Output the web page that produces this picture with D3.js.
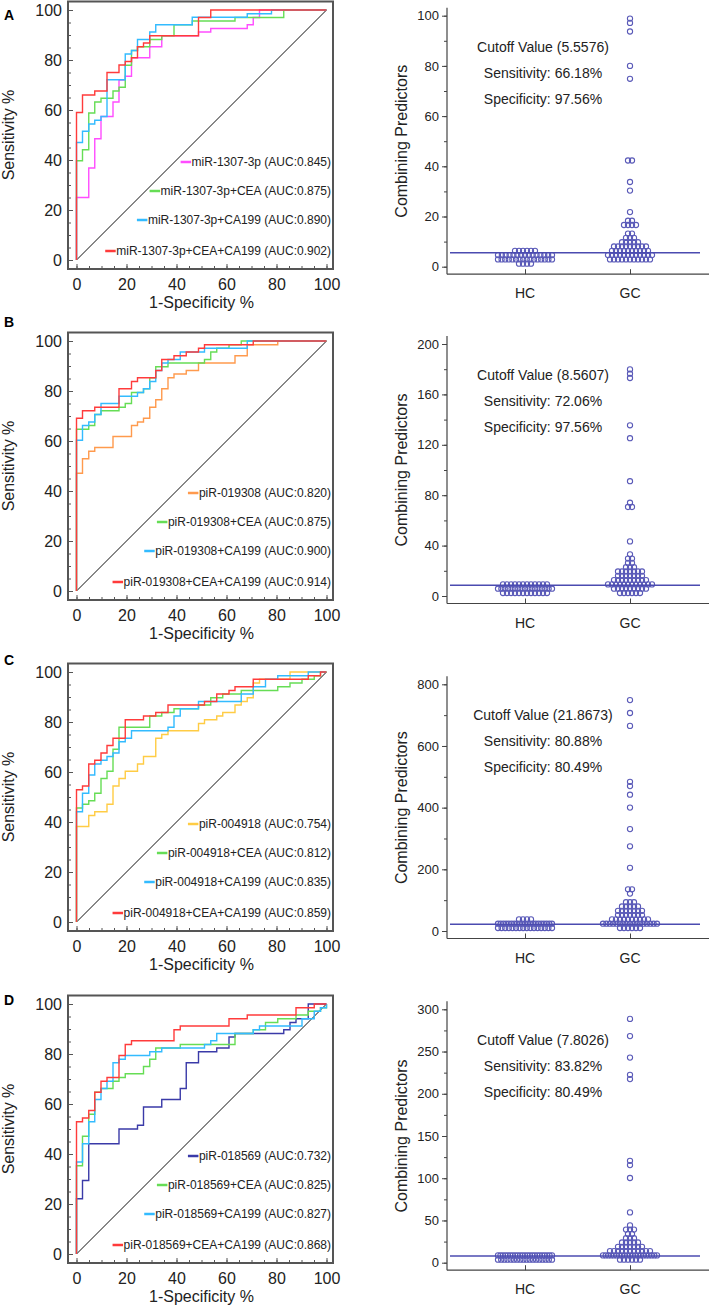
<!DOCTYPE html>
<html><head><meta charset="utf-8">
<script src="https://cdn.jsdelivr.net/npm/d3@7"></script>
<style>body{margin:0;background:#fff}svg{display:block;font-family:"Liberation Sans",Arial,sans-serif}</style>
</head><body><svg id="c" width="709" height="1309"></svg>
<script>
// ---------- ROC data: [1-specificity %, sensitivity %] step points ----------
const A_single = [[0,0],[0,25],[4.9,36.8],[7.3,48.5],[9.8,57.4],[14.6,63.2],[17,72],[19.5,73.5],[22,80.9],[29.3,85.3],[34.1,86.8],[34.1,89.7],[48.8,91.2],[53.7,92.6],[68.3,94.1],[70.7,97],[73.2,100],[100,100]];
const A_cea    = [[0,0],[0,39.7],[2.4,44.1],[4.9,58.8],[7.3,63.2],[9.8,64.7],[14.6,67.6],[17,69.1],[19.5,77.9],[22,83.8],[24.4,85.3],[29.3,88.2],[34.1,89.7],[39,94.1],[46.3,95.6],[63.4,97],[82.9,100],[100,100]];
const A_ca199  = [[0,0],[0,47],[2.4,51.5],[4.9,54.4],[7.3,55.9],[9.8,57.4],[12.2,72.1],[19.5,82.4],[22,83.8],[24.4,88.2],[29.3,91.2],[31.7,94.1],[46.3,97.1],[68.3,98.5],[78,100],[100,100]];
const A_both   = [[0,0],[0,59],[2.4,66],[7.3,67.6],[12.2,75],[17,78],[19.5,79.4],[22,80.9],[24.4,85.3],[26.8,86.8],[29.3,89.7],[48.8,97],[53.7,100],[100,100]];

const B_single = [[0,0],[0,47.1],[2.4,52.9],[4.9,55.9],[7.3,57.4],[14.6,61.8],[22,66.2],[24.4,67.6],[26.8,69.1],[29.3,73.5],[31.7,76.5],[34.1,80.9],[36.6,85.3],[39,86.8],[43.9,88.2],[48.8,91.2],[63.4,94.1],[68.3,98.5],[80.5,100],[100,100]];
const B_cea    = [[0,0],[0,64.7],[4.9,66.2],[7.3,70.6],[9.8,72.1],[17,73.5],[19.5,75],[22,79.4],[26.8,80.9],[29.3,85.3],[31.7,89.7],[36.6,91.2],[51.2,92.6],[53.7,95.6],[56.1,97.1],[61,98.5],[65.9,100],[100,100]];
const B_ca199  = [[0,0],[0,60.3],[2.4,66.2],[4.9,67.6],[7.3,70.6],[9.8,75],[17,77.9],[24.4,79.4],[26.8,80.9],[29.3,83.8],[31.7,88.2],[34.1,91.2],[36.6,92.6],[41.5,95.6],[51.2,97.1],[68.3,100],[100,100]];
const B_both   = [[0,0],[0,69.1],[2.4,72.1],[7.3,73.5],[17,80.9],[22,83.8],[24.4,85.3],[31.7,88.2],[34.1,92.6],[39,94.1],[43.9,95.6],[48.8,97.1],[51.2,98.5],[70.7,100],[100,100]];

const C_single = [[0,0],[0,38.2],[4.9,42.6],[7.3,44.1],[12.2,47.1],[14.6,54.4],[17,57.4],[19.5,60.3],[24.4,63.2],[26.8,66.2],[31.7,73.5],[34.1,75],[36.6,76.5],[48.8,79.4],[51.2,80.9],[56.1,82.4],[58.5,83.8],[63.4,86.8],[65.9,88.2],[68.3,89.7],[70.7,95.6],[73.2,97.1],[85.4,100],[100,100]];
const C_cea    = [[0,0],[0,45.6],[2.4,47.1],[4.9,48.5],[7.3,51.5],[9.8,57.4],[12.2,60.3],[14.6,69.1],[17,77.9],[29.3,82.4],[34.1,83.8],[39,85.3],[48.8,86.8],[53.7,89.7],[58.5,91.2],[65.9,92.6],[80.5,94.1],[85.4,95.6],[90.2,97.1],[95.1,98.5],[97.6,100],[100,100]];
const C_ca199  = [[0,0],[0,44.1],[2.4,51.5],[4.9,58.8],[7.3,63.2],[9.8,64.7],[12.2,66.2],[14.6,67.6],[17,72.1],[19.5,73.5],[22,76.5],[36.6,77.9],[39,82.4],[41.5,85.3],[48.8,88.2],[65.9,91.2],[70.7,94.1],[75.6,97.1],[80.5,98.5],[92.7,100],[100,100]];
const C_both   = [[0,0],[0,52.9],[2.4,54.4],[4.9,63.2],[7.3,64.7],[9.8,67.6],[12.2,70.6],[14.6,73.5],[19.5,80.9],[26.8,82.4],[31.7,83.8],[36.6,86.8],[51.2,88.2],[56.1,91.2],[61,92.6],[63.4,94.1],[70.7,97.1],[92.7,98.5],[97.6,100],[100,100]];

const D_single = [[0,0],[0,22.1],[2.4,29.4],[4.9,44.1],[17,50],[24.4,51.5],[26.8,58.8],[34.1,61.8],[41.5,66.2],[43.9,76.5],[48.8,80.9],[56.1,82.4],[61,86.8],[63.4,88.2],[82.9,89.7],[85.4,92.6],[87.8,94.1],[92.7,100],[100,100]];
const D_cea    = [[0,0],[0,35.3],[2.4,47.1],[4.9,55.9],[7.3,64.7],[9.8,66.2],[14.6,69.1],[17,70.6],[19.5,72.1],[26.8,75],[29.3,77.9],[31.7,82.4],[41.5,83.8],[63.4,88.2],[70.7,89.7],[75.6,92.6],[80.5,94.1],[87.8,95.6],[92.7,97.1],[97.6,98.5],[100,100]];
const D_ca199  = [[0,0],[0,36.8],[2.4,44.1],[4.9,52.9],[7.3,61.8],[9.8,66.2],[12.2,69.1],[14.6,76.5],[17,77.9],[19.5,79.4],[29.3,80.9],[34.1,82.4],[51.2,83.8],[53.7,85.3],[56.1,88.2],[70.7,89.7],[73.2,91.2],[90.2,94.1],[95.1,97.1],[97.6,98.5],[100,100]];
const D_both   = [[0,0],[0,52.9],[2.4,54.4],[4.9,57.4],[7.3,64.7],[9.8,69.1],[12.2,70.6],[17,79.4],[19.5,83.8],[22,85.3],[39,89.7],[41.5,91.2],[61,94.1],[68.3,95.6],[87.8,98.5],[95.1,100],[100,100]];

const legendA = ["miR-1307-3p (AUC:0.845)","miR-1307-3p+CEA (AUC:0.875)","miR-1307-3p+CA199 (AUC:0.890)","miR-1307-3p+CEA+CA199 (AUC:0.902)"];
const legendB = ["piR-019308 (AUC:0.820)","piR-019308+CEA (AUC:0.875)","piR-019308+CA199 (AUC:0.900)","piR-019308+CEA+CA199 (AUC:0.914)"];
const legendC = ["piR-004918 (AUC:0.754)","piR-004918+CEA (AUC:0.812)","piR-004918+CA199 (AUC:0.835)","piR-004918+CEA+CA199 (AUC:0.859)"];
const legendD = ["piR-018569 (AUC:0.732)","piR-018569+CEA (AUC:0.825)","piR-018569+CA199 (AUC:0.827)","piR-018569+CEA+CA199 (AUC:0.868)"];
const singleColors = ["#ff4dff","#ff9a4d","#ffcc44","#3a3aa8"];
const comboColors = ["#66dd55","#33bbff","#ff3b3b"];
const rocTicks = [0,20,40,60,80,100];
const panelLetters = ["A","B","C","D"];

// ---------- Dot plot data (HC n=41, GC n=68) ----------
const groups = ["HC","GC"];
const hcA = [1.6,1.8,1.9,2.0, 2.1,2.2,2.3,2.4,2.5,2.6,2.7,2.8,2.9,3.0,3.1,3.2,3.3,3.4,3.5,3.7,
  3.8,3.9,4.0,4.1,4.2,4.4,4.5,4.6,4.7,4.8,4.9,5.0,5.1,5.2,5.3, 5.48,5.5,5.52,5.54,5.55,6.0];
const gcA = [2.2,2.4,2.6,2.8,2.9,3.0,3.1,3.3,3.4,3.5,3.7, 3.8,3.9,4.1,4.2,4.4,4.5,4.7,4.8,5.0,5.1,5.3,5.4,
  5.6,5.7,5.9,6.0,6.2,6.4,6.6,6.8,7.0,7.1, 7.3,7.5,7.7,7.9,8.1,8.3,8.5,8.7,8.8, 9.0,9.4,9.8,10.1,10.4,
  10.9,11.4,12.0, 12.6,13.2, 15.9,16.2,16.9,17.3,17.6,17.8, 22.0,30.1,34.6,41.8,43.0,74.6,79.6,93.1,97.6,99.5];
const hcB = [2.4,2.6,2.8,3.0,3.1,3.3,3.4,3.5,3.6,3.8,3.9,4.0, 4.2,4.4,4.6,4.8,5.0,5.2,5.4,5.6,5.8,6.0,6.2,6.4,6.6,6.8,7.0,7.2,7.4,
  7.6,7.7,7.8,7.9,8.0,8.1,8.2,8.3,8.4,8.45,8.5,9.6];
const gcB = [3.2,3.5,3.7,3.8,3.9,4.0, 4.3,4.7,5.0,5.4,5.8,6.2,6.6,7.0,7.3, 7.6,7.9,8.2,8.5, 8.6,8.8,9.0,9.3,9.6,10.0,10.4,10.8,
  11.0,11.4,11.8,12.2,12.6,13.0,13.4,13.8,14.2, 14.6,15.1,15.6,16.1,16.6,17.0,17.5, 17.9,18.4,18.9,19.4,19.9,20.4,20.9,
  22,23,24, 25.5,27.5, 29,31, 33, 44,69,72,75,92,126,135,172,176,181];
const hcC = [5,6,7,8,9,10,10.5,11,11.5,12,12.5,13,14,15,15.5,16.2, 17,17.3,17.6,18,18.3,18.6,19,19.3,19.6,20,20.3,20.6,20.9,21.2,21.4,21.6,21.8,
  23,25,27,29, 33,36,38,40];
const gcC = [5,8,10,12,14,16, 17,18,19,19.5,20,21,21.5, 22.0,22.5,23,24,25,26,27,28,29,30, 31,32,34,35,36,38,40,42,43,44,
  45,48,50,52,55,56,58, 59,61,63,65,68,70,72, 75,78,80,82,85, 88,90,100, 128, 133,134,
  198,270,325,405,446,470,483,660,700,752];
const hcD = [2.0,2.4,2.7,3.0,3.2,3.5,3.7,3.9,4.1,4.3,4.5,4.7,4.9,5.1,5.3,5.5,5.8,6.0,
  6.2,6.3,6.4,6.5,6.6,6.7,6.8,6.9,7.0,7.1,7.2,7.3,7.4,7.6,7.7, 8.0,8.4,8.8,9.2,9.6,10.0,10.5,11.0];
const gcD = [3.5,4.0,4.5,5.0,5.5,6.0, 6.4,6.8,7.2,7.5,7.7, 7.81,7.85,7.9,8.0,8.2,8.4,8.6,8.8,9.0,9.3,9.6,9.9,10.2,10.5,10.8,11.1,
  11.4,11.8,12.2,12.6,13.0,13.5,14.0,14.5,15.0,15.5,16.0, 16.6,17.2,18.0,18.8,19.6,20.4,21.0, 22,23,24,25,26, 27,29,30, 33,35, 37,39,40, 42,
  58,99,116,120,218,220,241,267,290];
const cutoffs = [5.5576, 8.5607, 21.8673, 7.8026];
const cutoffLabels = ["Cutoff Value (5.5576)","Cutoff Value (8.5607)","Cutoff Value (21.8673)","Cutoff Value (7.8026)"];
const sensLabels = ["Sensitivity: 66.18%","Sensitivity: 72.06%","Sensitivity: 80.88%","Sensitivity: 83.82%"];
const specLabels = ["Specificity: 97.56%","Specificity: 97.56%","Specificity: 80.49%","Specificity: 80.49%"];
const dotMax = [100, 200, 800, 300];
const dotMajor = [20, 40, 200, 50];
const dotMinor = [10, 20, 100, 25];

// ---------- layout ----------
const svg = d3.select("#c");
const rocTop = [10, 341, 672, 1004];
const letterY = [20, 327, 665, 1005];
const dotTop = [15.7, 344, 684.3, 1009.3];
const dotBot = [266.7, 596, 931, 1262.7];
const TXT = "#222", AX = "#555";

const rocData = [
  [A_single,A_cea,A_ca199,A_both],[B_single,B_cea,B_ca199,B_both],
  [C_single,C_cea,C_ca199,C_both],[D_single,D_cea,D_ca199,D_both]];
const legends = [legendA,legendB,legendC,legendD];
const hcs = [hcA,hcB,hcC,hcD], gcs = [gcA,gcB,gcC,gcD];

function drawROC(i){
  const top = rocTop[i];
  const x = d3.scaleLinear().domain([0,100]).range([76.5,326.5]);
  const y = d3.scaleLinear().domain([0,100]).range([top+250, top]);
  const fl = 68, fr = 333, ft = top-8.5, fb = top+259;
  const g = svg.append("g");
  g.append("line").attr("x1",x(0)).attr("y1",y(0)).attr("x2",x(100)).attr("y2",y(100))
    .attr("stroke","#111").attr("stroke-width",1);
  const line = d3.line().x(d=>x(d[0])).y(d=>y(d[1])).curve(d3.curveStepAfter);
  const cols = [singleColors[i]].concat(comboColors);
  rocData[i].forEach((c,k)=>{
    g.append("path").attr("d",line(c)).attr("fill","none").attr("stroke",cols[k]).attr("stroke-width",1.4);
  });
  g.append("rect").attr("x",fl).attr("y",ft).attr("width",fr-fl).attr("height",fb-ft)
    .attr("fill","none").attr("stroke",AX).attr("stroke-width",2);
  const yAx = g.append("g").attr("transform",`translate(${fl},0)`)
    .call(d3.axisLeft(y).tickValues(rocTicks).tickSizeInner(-5).tickSizeOuter(0).tickPadding(6));
  const yMin = g.append("g").attr("transform",`translate(${fl},0)`)
    .call(d3.axisLeft(y).tickValues(d3.range(0,101,5)).tickSizeInner(-3).tickSizeOuter(0).tickFormat(""));
  const xAx = g.append("g").attr("transform",`translate(0,${fb})`)
    .call(d3.axisBottom(x).tickValues(rocTicks).tickSizeInner(-5).tickSizeOuter(0).tickPadding(10));
  const xMin = g.append("g").attr("transform",`translate(0,${fb})`)
    .call(d3.axisBottom(x).tickValues(d3.range(0,101,5)).tickSizeInner(-3).tickSizeOuter(0).tickFormat(""));
  [yAx,yMin,xAx,xMin].forEach(a=>{
    a.select(".domain").remove();
    a.selectAll("line").attr("stroke",AX).attr("stroke-width",1);
    a.selectAll("text").attr("font-size",16).attr("fill",TXT).attr("font-family","Liberation Sans, Arial, sans-serif");
  });
  g.append("text").attr("transform",`translate(14,${top+125}) rotate(-90)`).attr("text-anchor","middle")
    .attr("font-size",16).attr("fill",TXT).text("Sensitivity %");
  g.append("text").attr("x",(x(0)+x(100))/2).attr("y",top+292).attr("text-anchor","middle")
    .attr("dominant-baseline","central").attr("font-size",16).attr("fill",TXT).text("1-Specificity %");
  g.append("text").attr("x",4).attr("y",letterY[i]).attr("font-size",14).attr("font-weight","bold")
    .attr("fill","#000").text(panelLetters[i]);
  const off = [152,181,210,241];
  legends[i].forEach((lab,k)=>{
    const t = g.append("text").attr("x",331).attr("y",top+off[k]).attr("text-anchor","end")
      .attr("dominant-baseline","central").attr("font-size",12).attr("fill",TXT).text(lab);
    const w = t.node().getComputedTextLength();
    g.append("line").attr("x1",331-w-11).attr("x2",331-w-0.5).attr("y1",top+off[k]).attr("y2",top+off[k])
      .attr("stroke",cols[k]).attr("stroke-width",2.5);
  });
}

// dot-plot layout: values binned into rows of fixed pixel height, spread horizontally in each row
function dotRows(vals, y){
  const H = 4.3, y0 = y(0) - 3;
  const rows = d3.group(vals.slice().sort((a,b)=>a-b), v=>Math.round((y0 - y(v))/H));
  const pts = [];
  for(const [k, vs] of rows){
    const n = vs.length;
    const s = n>1 ? Math.min(4.0, 54/(n-1)) : 0;
    vs.forEach((v,j)=>pts.push({v, dx:(j-(n-1)/2)*s, cy:y0 - k*H}));
  }
  return pts;
}

function drawDot(i){
  const top = dotTop[i], bot = dotBot[i];
  const y = d3.scaleLinear().domain([0,dotMax[i]]).range([bot, top]);
  const x = d3.scalePoint().domain(groups).range([525,630]);
  const axX = 447, axB = bot+7.5;
  const g = svg.append("g");
  g.append("line").attr("x1",axX).attr("x2",axX).attr("y1",top-8).attr("y2",axB).attr("stroke","#444").attr("stroke-width",1.2);
  g.append("line").attr("x1",axX).attr("x2",709).attr("y1",axB).attr("y2",axB).attr("stroke","#444").attr("stroke-width",1.2);
  const ya = g.append("g").attr("transform",`translate(${axX},0)`)
    .call(d3.axisLeft(y).tickValues(d3.range(0,dotMax[i]+1,dotMajor[i])).tickSizeInner(5).tickSizeOuter(0).tickPadding(3));
  const ym = g.append("g").attr("transform",`translate(${axX},0)`)
    .call(d3.axisLeft(y).tickValues(d3.range(0,dotMax[i]+1,dotMinor[i])).tickSizeInner(3).tickSizeOuter(0).tickFormat(""));
  const xa = g.append("g").attr("transform",`translate(0,${axB})`)
    .call(d3.axisBottom(x).tickSizeInner(5).tickSizeOuter(0).tickFormat(""));
  xa.selectAll("line").attr("transform","translate(0,-5)");
  [ya,ym,xa].forEach(a=>{
    a.select(".domain").remove();
    a.selectAll("line").attr("stroke","#444");
    a.selectAll("text").attr("font-size",13).attr("fill",TXT).attr("font-family","Liberation Sans, Arial, sans-serif");
  });
  groups.forEach(gr=>{
    g.append("text").attr("x",x(gr)).attr("y",axB+19).attr("text-anchor","middle").attr("dominant-baseline","central")
      .attr("font-size",14).attr("fill",TXT).text(gr);
  });
  g.append("text").attr("transform",`translate(407,${(top+bot)/2}) rotate(-90)`).attr("text-anchor","middle")
    .attr("font-size",16).attr("fill",TXT).text("Combining Predictors");
  [hcs[i],gcs[i]].forEach((vals,k)=>{
    const pts = dotRows(vals,y);
    g.selectAll(null).data(pts).enter().append("circle")
      .attr("cx",d=>x(groups[k])+d.dx).attr("cy",d=>d.cy).attr("r",2.6)
      .attr("fill","none").attr("stroke","#5a5ab8").attr("stroke-width",1.1);
  });
  g.append("line").attr("x1",450).attr("x2",700).attr("y1",y(cutoffs[i])).attr("y2",y(cutoffs[i]))
    .attr("stroke","#4b4bb0").attr("stroke-width",1.5);
  [cutoffLabels[i],sensLabels[i],specLabels[i]].forEach((t,k)=>{
    g.append("text").attr("x",543).attr("y",top+31+26*k).attr("text-anchor","middle").attr("dominant-baseline","central")
      .attr("font-size",14).attr("fill",TXT).text(t);
  });
}

for(let i=0;i<4;i++){ drawROC(i); drawDot(i); }
</script></body></html>
